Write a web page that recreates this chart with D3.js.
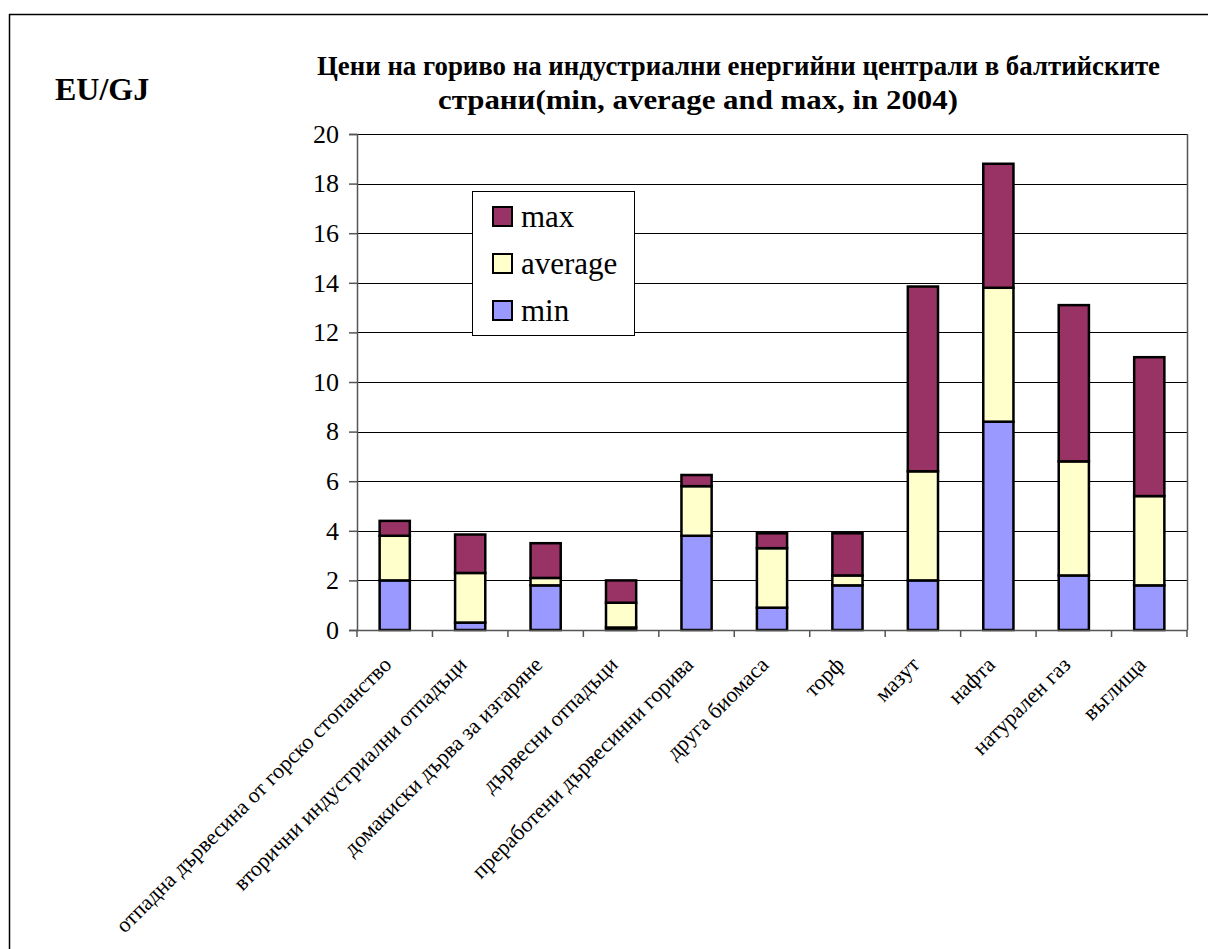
<!DOCTYPE html>
<html>
<head>
<meta charset="utf-8">
<script src="https://cdn.jsdelivr.net/npm/d3@7"></script>
<style>
html,body{margin:0;padding:0;background:#fff;}
svg{display:block;}
</style>
</head>
<body>
<svg id="chart" width="1208" height="949" font-family="'Liberation Serif', 'Times New Roman', Times, serif"></svg>
<script>
// ---- data ----
const categories = [
  "отпадна дървесина от горско стопанство",
  "вторични индустриални отпадъци",
  "домакиски дърва за изгаряне",
  "дървесни отпадъци",
  "преработени дървесинни горива",
  "друга биомаса",
  "торф",
  "мазут",
  "нафта",
  "натурален газ",
  "въглища"
];
// cumulative levels
const minValues     = [2.0, 0.3, 1.8, 0.1, 3.8, 0.9, 1.8, 2.0, 8.4, 2.2, 1.8];
const averageValues = [3.8, 2.3, 2.1, 1.1, 5.8, 3.3, 2.2, 6.4, 13.8, 6.8, 5.4];
const maxValues     = [4.4, 3.85, 3.5, 2.0, 6.25, 3.9, 3.9, 13.85, 18.8, 13.1, 11.0];
const yTicks = [0, 2, 4, 6, 8, 10, 12, 14, 16, 18, 20];
const seriesNames = ["min", "average", "max"];
const legendOrder = ["max", "average", "min"];
const titleLines = ["Цени на гориво на индустриални енергийни централи в балтийските",
                    "страни(min, average and max, in 2004)"];
const unitLabel = "EU/GJ";

// ---- layout ----
const FONT = "'Liberation Serif', 'Times New Roman', Times, serif";
const svg = d3.select("#chart");
const plot = {left: 357, right: 1187, top: 134, bottom: 630};
const colors = {min: "#9999FF", average: "#FFFFCC", max: "#993366"};

// outer frame (top and left edges visible)
svg.append("line").attr("x1", 9).attr("y1", 14.5).attr("x2", 1208).attr("y2", 14.5)
  .attr("stroke", "#000").attr("stroke-width", 1.5);
svg.append("line").attr("x1", 9.5).attr("y1", 14).attr("x2", 9.5).attr("y2", 949)
  .attr("stroke", "#000").attr("stroke-width", 1.5);

const x = d3.scaleBand().domain(categories).range([plot.left, plot.right])
  .paddingInner(0.6).paddingOuter(0.3);
const y = d3.scaleLinear().domain([0, 20]).range([plot.bottom, plot.top]);

// gridlines
svg.append("g").selectAll("line").data(yTicks.filter(d => d > 0)).join("line")
  .attr("x1", plot.left).attr("x2", plot.right)
  .attr("y1", d => Math.round(y(d)) + 0.5).attr("y2", d => Math.round(y(d)) + 0.5)
  .attr("stroke", "#000").attr("stroke-width", 1);
// right border of plot
svg.append("line").attr("x1", plot.right + 0.5).attr("x2", plot.right + 0.5)
  .attr("y1", plot.top).attr("y2", plot.bottom).attr("stroke", "#555").attr("stroke-width", 1.5);

// stacked bars
const seriesData = {min: minValues, average: averageValues, max: maxValues};
seriesNames.forEach((s, si) => {
  const lower = si === 0 ? categories.map(() => 0) : seriesData[seriesNames[si - 1]];
  svg.append("g").selectAll("rect").data(categories).join("rect")
    .attr("x", d => x(d))
    .attr("width", x.bandwidth())
    .attr("y", (d, i) => y(seriesData[s][i]))
    .attr("height", (d, i) => y(lower[i]) - y(seriesData[s][i]))
    .attr("fill", colors[s])
    .attr("stroke", "#000")
    .attr("stroke-width", 2.5);
});

// y axis
const yAxis = svg.append("g").attr("transform", `translate(${plot.left},0)`)
  .call(d3.axisLeft(y).tickValues(yTicks).tickFormat(d3.format("d")).tickSize(8).tickPadding(10));
yAxis.attr("font-family", FONT).attr("font-size", 26);
yAxis.select(".domain").attr("stroke", "#555").attr("stroke-width", 1.5);
yAxis.selectAll(".tick line").attr("stroke", "#555").attr("stroke-width", 1.5);
yAxis.selectAll("text").attr("font-family", FONT).attr("font-size", 26).attr("fill", "#000");

// x axis
const xBoundaries = d3.range(categories.length + 1);
const xAxisG = svg.append("g");
xAxisG.append("line").attr("x1", plot.left).attr("x2", plot.right)
  .attr("y1", plot.bottom + 0.5).attr("y2", plot.bottom + 0.5)
  .attr("stroke", "#555").attr("stroke-width", 1.5);
xAxisG.selectAll("line.t").data(xBoundaries).join("line").attr("class", "t")
  .attr("x1", i => plot.left + i * x.step()).attr("x2", i => plot.left + i * x.step())
  .attr("y1", plot.bottom).attr("y2", plot.bottom + 7)
  .attr("stroke", "#555").attr("stroke-width", 1.5);
xAxisG.selectAll("text").data(categories).join("text")
  .attr("transform", d => `translate(${x(d) + x.bandwidth() / 2 - 2},${plot.bottom + 36}) rotate(-45)`)
  .attr("text-anchor", "end")
  .attr("font-family", FONT)
  .attr("font-size", 22)
  .text(d => d);

// title: condensed bold serif, line 1 spans ~317..1160, line 2 ~437..960
const title = svg.append("g").attr("font-family", FONT).attr("font-weight", "bold");
const titleSize = 28;
title.append("text").attr("text-anchor", "middle").attr("font-size", titleSize)
  .attr("x", 738.5).attr("y", 75)
  .attr("textLength", 843).attr("lengthAdjust", "spacingAndGlyphs")
  .text(titleLines[0]);
title.append("text").attr("text-anchor", "middle").attr("font-size", titleSize)
  .attr("x", 698).attr("y", 109)
  .attr("textLength", 520).attr("lengthAdjust", "spacingAndGlyphs")
  .text(titleLines[1]);

// unit label
svg.append("text").attr("x", 55).attr("y", 100).attr("font-family", FONT)
  .attr("font-size", 32).attr("font-weight", "bold").text(unitLabel);

// legend
const lg = svg.append("g").attr("transform", "translate(472,191)");
lg.append("rect").attr("x", 0.5).attr("y", 0.5).attr("width", 162).attr("height", 144)
  .attr("fill", "#fff").attr("stroke", "#000").attr("stroke-width", 1);
legendOrder.forEach((s, i) => {
  lg.append("rect").attr("x", 21).attr("y", 16 + i * 47).attr("width", 19).attr("height", 19)
    .attr("fill", colors[s]).attr("stroke", "#000").attr("stroke-width", 2);
  lg.append("text").attr("x", 49).attr("y", 36 + i * 47).attr("font-family", FONT)
    .attr("font-size", 31).text(s);
});
</script>
</body>
</html>
